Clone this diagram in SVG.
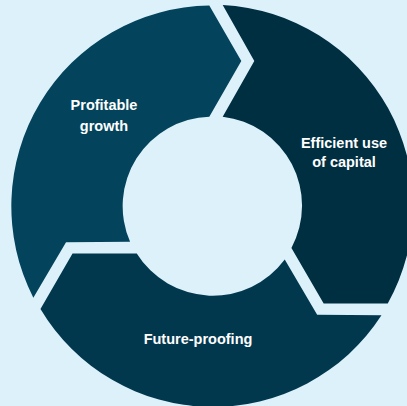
<svg xmlns="http://www.w3.org/2000/svg" width="407" height="406" viewBox="0 0 407 406">
<style>
.lbl{font-family:"Liberation Sans",Arial,sans-serif;font-weight:bold;font-size:14.5px;fill:#ffffff;text-anchor:middle}
</style>
<defs>
<path id="seg" d="M -3.2,-200.5 L 28.8,-145 L -3.2,-89.3 A 89.5 89.5 0 0 0 -82.43,35.82 L -146.47,36.3 L -179.17,91.67 A 200.8 200.8 0 0 1 -3.2,-200.5 Z"/>
</defs>
<rect width="407" height="406" fill="#dcf1fa"/>
<g id="connectors"></g>
<g transform="translate(212.5,206)">
<g id="node-profitable"><use href="#seg" fill="#03445c"/></g>
<g id="node-efficient"><use href="#seg" fill="#012f42" transform="rotate(120)"/></g>
<g id="node-future"><use href="#seg" fill="#02384e" transform="rotate(240)"/></g>
</g>
<g id="labels">
<text class="lbl" x="104" y="110">Profitable</text>
<text class="lbl" x="104" y="131">growth</text>
<text class="lbl" x="344" y="148">Efficient use</text>
<text class="lbl" x="344" y="167">of capital</text>
<text class="lbl" x="198" y="344">Future-proofing</text>
</g>
</svg>
